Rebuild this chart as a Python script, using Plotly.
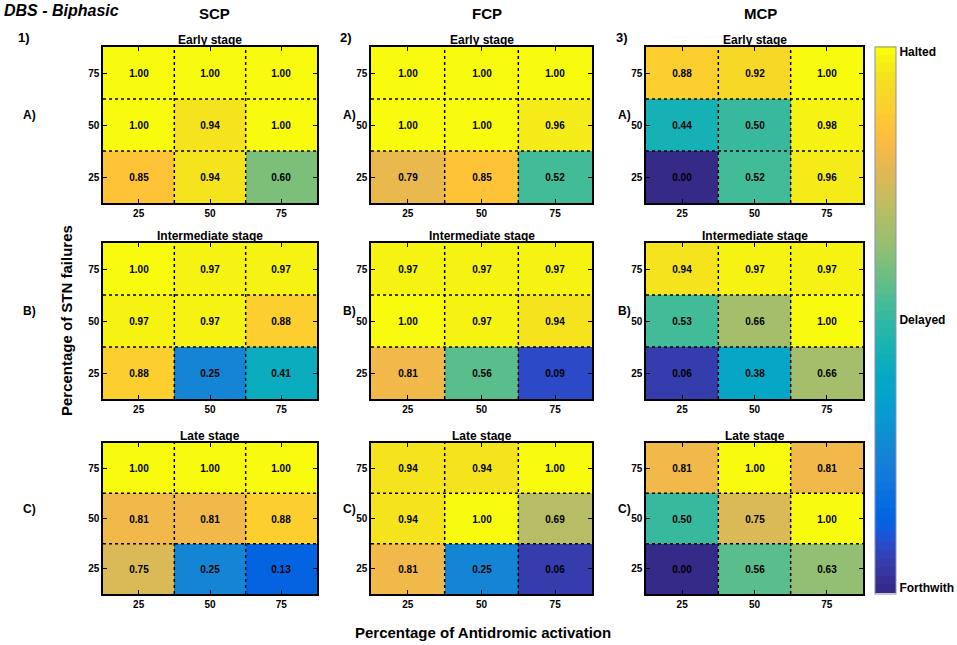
import plotly.graph_objects as go

# axes categories
ACTIVATION = [25, 50, 75]      # % antidromic activation (x)
STN_FAILURE = [75, 50, 25]     # % STN failures (y), top row first

PROTOCOLS = ["SCP", "FCP", "MCP"]
STAGES = ["Early stage", "Intermediate stage", "Late stage"]
PANEL_NUMBERS = ["1)", "2)", "3)"]
ROW_LETTERS = ["A)", "B)", "C)"]

# values, rows = STN failure 75 / 50 / 25, cols = activation 25 / 50 / 75
SCP_EARLY = [[1.00, 1.00, 1.00], [1.00, 0.94, 1.00], [0.85, 0.94, 0.60]]
SCP_INTER = [[1.00, 0.97, 0.97], [0.97, 0.97, 0.88], [0.88, 0.25, 0.41]]
SCP_LATE = [[1.00, 1.00, 1.00], [0.81, 0.81, 0.88], [0.75, 0.25, 0.13]]

FCP_EARLY = [[1.00, 1.00, 1.00], [1.00, 1.00, 0.96], [0.79, 0.85, 0.52]]
FCP_INTER = [[0.97, 0.97, 0.97], [1.00, 0.97, 0.94], [0.81, 0.56, 0.09]]
FCP_LATE = [[0.94, 0.94, 1.00], [0.94, 1.00, 0.69], [0.81, 0.25, 0.06]]

MCP_EARLY = [[0.88, 0.92, 1.00], [0.44, 0.50, 0.98], [0.00, 0.52, 0.96]]
MCP_INTER = [[0.94, 0.97, 0.97], [0.53, 0.66, 1.00], [0.06, 0.38, 0.66]]
MCP_LATE = [[0.81, 1.00, 0.81], [0.50, 0.75, 1.00], [0.00, 0.56, 0.63]]

GRID = [  # [stage][protocol]
    [SCP_EARLY, FCP_EARLY, MCP_EARLY],
    [SCP_INTER, FCP_INTER, MCP_INTER],
    [SCP_LATE, FCP_LATE, MCP_LATE],
]

CBAR_TICKS = [0.01, 0.5, 0.99]
CBAR_LABELS = ["Forthwith", "Delayed", "Halted"]

# parula, 64 levels like matlab
PARULA = [
    (.2081, .1663, .5292), (.2116, .1898, .5777), (.2123, .2138, .6270), (.2081, .2386, .6771),
    (.1959, .2645, .7279), (.1707, .2919, .7792), (.1253, .3242, .8303), (.0591, .3598, .8683),
    (.0117, .3875, .8820), (.0060, .4086, .8828), (.0165, .4266, .8786), (.0329, .4430, .8720),
    (.0498, .4586, .8641), (.0629, .4737, .8554), (.0723, .4887, .8467), (.0779, .5040, .8384),
    (.0793, .5200, .8312), (.0749, .5375, .8263), (.0641, .5570, .8240), (.0488, .5772, .8228),
    (.0343, .5966, .8199), (.0265, .6137, .8135), (.0239, .6287, .8038), (.0231, .6418, .7913),
    (.0228, .6535, .7768), (.0267, .6642, .7607), (.0384, .6743, .7436), (.0590, .6838, .7254),
    (.0843, .6928, .7062), (.1133, .7015, .6859), (.1453, .7098, .6646), (.1801, .7177, .6424),
    (.2178, .7250, .6193), (.2586, .7317, .5954), (.3022, .7376, .5712), (.3482, .7424, .5473),
    (.3953, .7459, .5244), (.4420, .7481, .5033), (.4871, .7491, .4840), (.5300, .7491, .4661),
    (.5709, .7485, .4494), (.6099, .7473, .4337), (.6473, .7456, .4188), (.6834, .7435, .4044),
    (.7184, .7411, .3905), (.7525, .7384, .3768), (.7858, .7356, .3633), (.8185, .7327, .3498),
    (.8507, .7299, .3360), (.8824, .7274, .3217), (.9139, .7258, .3063), (.9450, .7261, .2886),
    (.9739, .7314, .2666), (.9938, .7455, .2403), (.9990, .7653, .2164), (.9955, .7861, .1967),
    (.9880, .8066, .1794), (.9789, .8271, .1633), (.9697, .8481, .1475), (.9626, .8705, .1309),
    (.9589, .8949, .1132), (.9598, .9218, .0948), (.9661, .9514, .0755), (.9763, .9831, .0538),
]

n = len(PARULA)
colorscale = []
for k, (r, g, b) in enumerate(PARULA):
    c = f"rgb({r*255:.0f},{g*255:.0f},{b*255:.0f})"
    colorscale.append([k / n, c])
    colorscale.append([(k + 1) / n, c])

W, H = 957, 645
COL_PX = [(103, 317), (371, 592), (646, 863)]
ROW_PX = [(47, 203), (243, 399), (443, 594)]


def fx(p):
    return p / W


def fy(p):
    return 1 - p / H


FONT = "Liberation Sans"


def label(text, x, y, size, angle=0, xanchor="center"):
    return dict(text=text, x=fx(x), y=fy(y), xref="paper", yref="paper",
                xanchor=xanchor, yanchor="middle", showarrow=False, textangle=angle,
                font=dict(family=FONT, size=size, color="black"))


fig = go.Figure()
layout_axes = {}
shapes = []
annotations = []

step_x = ACTIVATION[1] - ACTIVATION[0]
step_y = abs(STN_FAILURE[1] - STN_FAILURE[0])
xr = [min(ACTIVATION) - step_x / 2, max(ACTIVATION) + step_x / 2]
yr = [min(STN_FAILURE) - step_y / 2, max(STN_FAILURE) + step_y / 2]
xs = sorted(ACTIVATION)
ys = sorted(STN_FAILURE)
x_bounds = [(a + b) / 2 for a, b in zip(xs[:-1], xs[1:])]
y_bounds = [(a + b) / 2 for a, b in zip(ys[:-1], ys[1:])]

for r in range(3):
    for c in range(3):
        k = r * 3 + c + 1
        xa = "x" if k == 1 else f"x{k}"
        ya = "y" if k == 1 else f"y{k}"
        fig.add_trace(go.Heatmap(
            x=ACTIVATION, y=STN_FAILURE, z=GRID[r][c],
            coloraxis="coloraxis",
            texttemplate="%{z:.2f}",
            textfont=dict(family=FONT, size=10, color="black", weight="bold"),
            xaxis=xa, yaxis=ya,
        ))
        axis_common = dict(
            ticks="inside", ticklen=4, tickwidth=1, tickcolor="black",
            showline=True, linecolor="black", linewidth=1.5, mirror="ticks",
            showgrid=False, zeroline=False,
            tickfont=dict(family=FONT, size=10, color="black", weight="bold"),
        )
        x0, x1 = COL_PX[c]
        y0, y1 = ROW_PX[r]
        layout_axes["xaxis" if k == 1 else f"xaxis{k}"] = dict(
            domain=[fx(x0), fx(x1)], anchor=ya, range=xr, tickvals=ACTIVATION, **axis_common)
        layout_axes["yaxis" if k == 1 else f"yaxis{k}"] = dict(
            domain=[fy(y1), fy(y0)], anchor=xa, range=yr, tickvals=STN_FAILURE, **axis_common)

        # dotted cell borders
        for b in x_bounds:
            shapes.append(dict(type="line", xref=xa, yref=f"{ya} domain", x0=b, x1=b, y0=0, y1=1,
                               line=dict(color="black", width=1.5, dash="dot"), layer="above"))
        for b in y_bounds:
            shapes.append(dict(type="line", xref=f"{xa} domain", yref=ya, x0=0, x1=1, y0=b, y1=b,
                               line=dict(color="black", width=1.5, dash="dot"), layer="above"))

        annotations.append(label(f"<b>{STAGES[r]}</b>", (x0 + x1) / 2, y0 - 7, 12))
        annotations.append(label(f"<b>{ROW_LETTERS[r]}</b>", [30, 349, 624][c], (y0 + y1) / 2 - 10, 12))

# column headers and panel numbers
for c in range(3):
    annotations.append(label(f"<b>{PROTOCOLS[c]}</b>", [214, 487, 760][c], 13, 15))
    annotations.append(label(f"<b>{PANEL_NUMBERS[c]}</b>", [24, 346, 622][c], 38, 13))

annotations.append(label("<b><i>DBS - Biphasic</i></b>", 2, 10, 16, xanchor="left"))
annotations.append(label("<b>Percentage of STN failures</b>", 67, 321, 15, angle=-90))
annotations.append(label("<b>Percentage of Antidromic activation</b>", 483, 632, 15))

fig.update_layout(
    width=W, height=H, autosize=False,
    margin=dict(l=0, r=0, t=0, b=0),
    paper_bgcolor="white", plot_bgcolor="white",
    template="none",
    font=dict(family=FONT, color="black"),
    coloraxis=dict(
        colorscale=colorscale, cmin=0, cmax=1,
        colorbar=dict(
            x=fx(875), xanchor="left", xpad=0, ypad=0,
            y=fy(320), yanchor="middle", len=(594 - 47) / H, lenmode="fraction",
            thickness=21, thicknessmode="pixels",
            outlinewidth=1, outlinecolor="#8c90b4",
            tickvals=CBAR_TICKS, ticktext=CBAR_LABELS, ticks="", ticklen=2,
            tickfont=dict(family=FONT, size=12, color="black", weight="bold"),
        ),
    ),
    shapes=shapes,
    annotations=annotations,
    **layout_axes,
)

# page body has an 8px default margin; drop it so the figure sits at the corner
fig.write_html("out.html", config={"displayModeBar": False},
               post_script="document.body.style.margin='0';")
